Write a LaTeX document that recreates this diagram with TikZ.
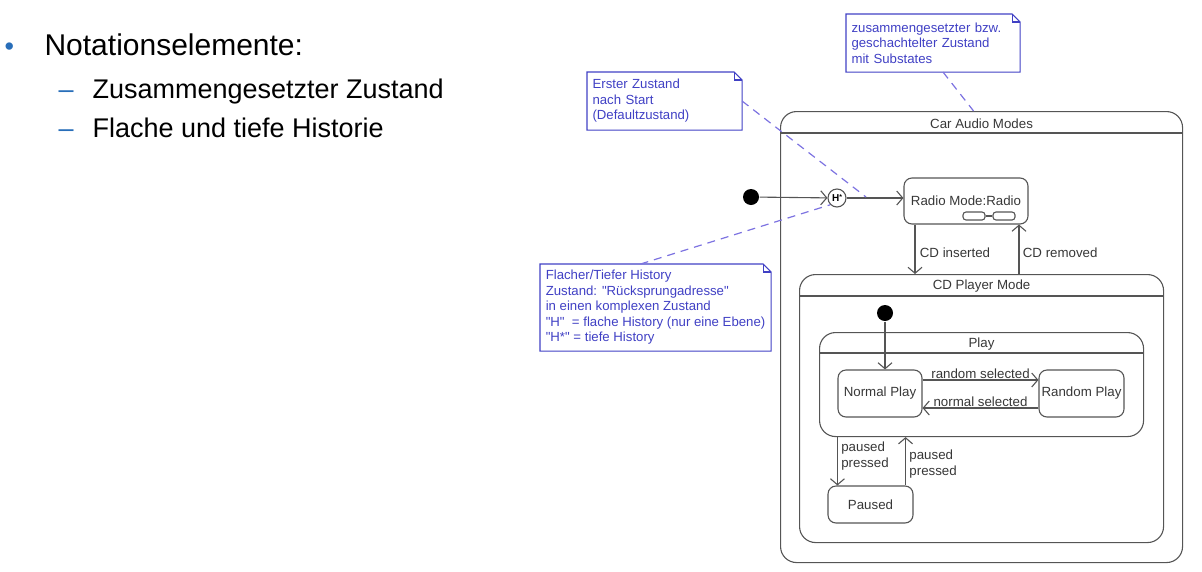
\documentclass[tikz,border=0pt]{standalone}
\usepackage{fontspec}
\setmainfont{Liberation Sans}
\usetikzlibrary{arrows.meta, positioning}
\definecolor{noteblue}{RGB}{64,64,196}
\definecolor{dashblue}{RGB}{125,115,225}
\definecolor{linegray}{RGB}{85,85,85}
\definecolor{textgray}{RGB}{55,55,55}
\definecolor{bulletblue}{RGB}{40,110,185}

\begin{document}
\begin{tikzpicture}[x=1pt, y=-1pt, line width=1.1pt, >={Straight Barb[length=6pt, width=14pt]},
  every node/.style={font=\fontsize{13.3}{15.5}\selectfont, text=textgray},
  state/.style={draw=linegray, rounded corners=8pt, align=center, inner xsep=2pt},
  comp/.style={draw=linegray, rounded corners=16pt, anchor=north west, inner sep=0},
  initial/.style={circle, fill=black, minimum size=16pt, inner sep=0},
  icon/.style={draw=linegray, rounded corners=3pt, minimum width=22pt, minimum height=8pt, inner sep=0},
  trans/.style={->, draw=linegray},
  note/.style={anchor=north west, align=left, text=noteblue, inner xsep=5pt, inner ysep=4pt, font=\fontsize{13.2}{15.5}\selectfont},
  noteline/.style={draw=noteblue},
  link/.style={draw=dashblue, dash pattern=on 8pt off 6pt, line width=1.2pt},
  item/.style={anchor=base west, inner sep=0, text=black}]
  \useasboundingbox (0,0) rectangle (1202,571);

  % Bullet list
  \node[item, text=bulletblue, font=\fontsize{27}{27}\selectfont] (b0) at (4,55) {•};
  \node[item, font=\fontsize{30}{30}\selectfont] (t0) at (44,55) {Notationselemente:};
  \node[item, text=bulletblue, font=\fontsize{27}{27}\selectfont] (b1) at (58,98) {–};
  \node[item, font=\fontsize{27}{27}\selectfont] (t1) at (92,98) {Zusammengesetzter Zustand};
  \node[item, text=bulletblue, font=\fontsize{27}{27}\selectfont] (b2) at (58,137) {–};
  \node[item, font=\fontsize{27}{27}\selectfont] (t2) at (92,137) {Flache und tiefe Historie};

  % Car Audio Modes
  \node[comp, minimum width=402pt, minimum height=451pt] (cam) at (780,111) {};
  \node (camt) at ([yshift=-12.5pt]cam.north) {Car Audio Modes};
  \draw[linegray] ([yshift=-22pt]cam.north west) -- ([yshift=-22pt]cam.north east);

  \node[initial] (i1) at (751,197) {};
  \node[circle, draw=linegray, inner sep=0, minimum size=18pt, text=black,
    font=\bfseries\fontsize{10}{10}\selectfont] (h) at (837,198) {H\raisebox{2pt}{\fontsize{7}{7}\selectfont*}};
  \node[state, minimum width=124pt, minimum height=46pt] (radio) at (966,201) {Radio Mode:Radio};
  \node[icon] (r1) at (974,216) {};
  \node[icon] (r2) at (1004,216) {};
  \draw[linegray] (r1) -- (r2);
  \draw[trans] (i1) -- (h);
  \draw[trans] (h) -- (h -| radio.west);

  % CD Player Mode
  \node[comp, minimum width=364pt, minimum height=268pt] (cdp) at (799,274) {};
  \node (cdpt) at ([yshift=-12.5pt]cdp.north) {CD Player Mode};
  \draw[linegray] ([yshift=-22pt]cdp.north west) -- ([yshift=-22pt]cdp.north east);
  \draw[trans] ([xshift=-51pt]radio.south) -- ([xshift=-51pt]radio.south |- cdp.north)
    node[pos=0.58, right, xshift=1pt] {CD inserted};
  \draw[trans] ([xshift=53pt]radio.south |- cdp.north) -- ([xshift=53pt]radio.south)
    node[pos=0.42, right] {CD removed};

  % Play
  \node[comp, minimum width=324pt, minimum height=104pt] (play) at (819,332) {};
  \node (playt) at ([yshift=-12.5pt]play.north) {Play};
  \draw[linegray] ([yshift=-21pt]play.north west) -- ([yshift=-21pt]play.north east);
  \node[initial] (i2) at (885,313) {};
  \node[state, minimum width=84pt, minimum height=47pt] (normal) at (880,393.5) {Normal Play};
  \node[state, minimum width=85pt, minimum height=47pt] (random) at (1081.5,393.5) {Random Play};
  \draw[trans] (i2) -- (i2 |- normal.north);
  \draw[trans] ([yshift=13.5pt]normal.east) -- ([yshift=13.5pt]normal.east -| random.west)
    node[midway, above, inner sep=1pt] {random selected};
  \draw[trans] ([yshift=-14.5pt]random.west) -- ([yshift=-14.5pt]random.west -| normal.east)
    node[midway, above, inner sep=1pt] {normal selected};

  % Paused
  \node[state, minimum width=85pt, minimum height=37pt] (paused) at (870.5,504.5) {Paused};
  \draw[trans] ([xshift=10pt]paused.north west |- play.south) -- ([xshift=10pt]paused.north west)
    node[midway, right, align=left, yshift=5pt] {paused\\pressed};
  \draw[trans] ([xshift=-8pt]paused.north east) -- ([xshift=-8pt]paused.north east |- play.south)
    node[midway, right, align=left, yshift=-3pt] {paused\\pressed};

  % Notes
  \node[note, text width=163pt, minimum height=57pt] (nsub) at (846,14)
    {zusammengesetzter bzw.\\geschachtelter Zustand\\mit Substates};
  \node[note, text width=144pt, minimum height=57pt] (nstart) at (587,72)
    {Erster Zustand\\nach Start\\(Defaultzustand)};
  \node[note, inner xsep=3.5pt, minimum width=230pt, minimum height=86pt] (nhist) at (540,264)
    {Flacher/Tiefer History\\Zustand: \textquotedbl Rücksprungadresse\textquotedbl\\in einen komplexen Zustand\\\textquotedbl H\textquotedbl\ \ = flache History (nur eine Ebene)\\\textquotedbl H*\textquotedbl{} = tiefe History};
  \foreach \n in {nsub, nstart, nhist} {
    \draw[noteline] (\n.north west) -- ([xshift=-8pt]\n.north east) -- ([yshift=-8pt]\n.north east)
      -- (\n.south east) -- (\n.south west) -- cycle;
    \draw[noteline] ([xshift=-8pt]\n.north east) |- ([yshift=-8pt]\n.north east);
  }
  \coordinate (hmark) at (866,197);
  \draw[link] ([xshift=10pt]nsub.south) -- ([xshift=-8pt]cam.north);
  \draw[link] (nstart.east) -- (hmark);
  \draw[link] ([xshift=-15pt]nhist.north) -- (h.south west);
\end{tikzpicture}
\end{document}
